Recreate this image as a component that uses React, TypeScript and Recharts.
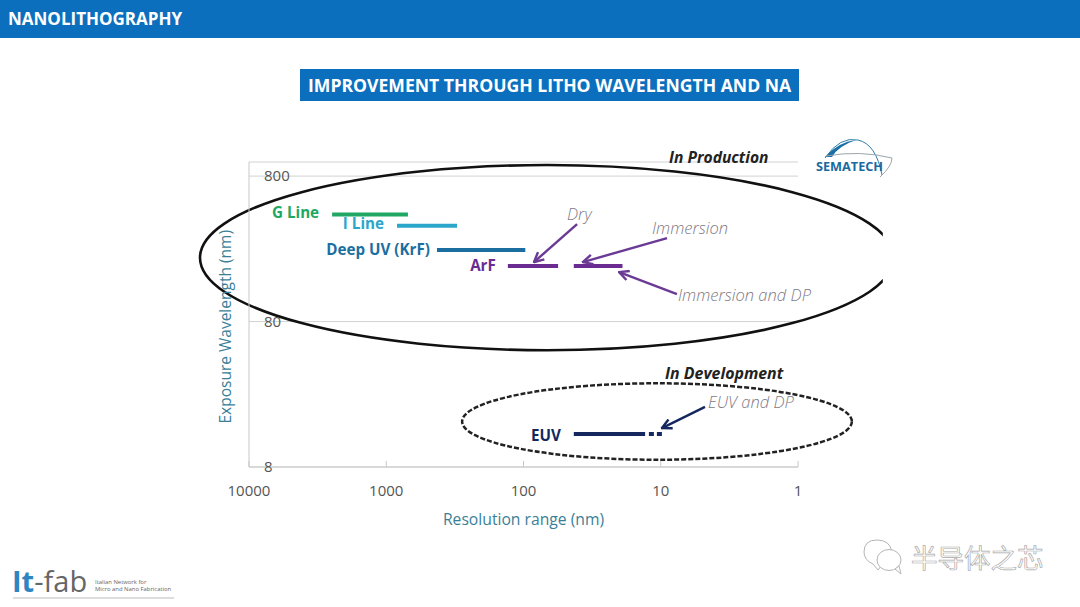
import { LineChart, Line, XAxis, YAxis, CartesianGrid, ReferenceArea, ReferenceLine } from 'recharts';

const FONT = '"Open Sans", sans-serif';

const xTicks = [10000, 1000, 100, 10, 1];
const yTicks = [800, 80, 8];

// resolution (nm) vs wavelength (nm)
const gLine = [{ x: 2480, y: 436 }, { x: 695, y: 436 }];
const iLine = [{ x: 835, y: 365 }, { x: 305, y: 365 }];
const krf = [{ x: 427, y: 248 }, { x: 97, y: 248 }];
const arfDry = [{ x: 130, y: 193 }, { x: 56, y: 193 }];
const arfImmersion = [{ x: 43, y: 193 }, { x: 19, y: 193 }];
const euv = [{ x: 43, y: 13.5 }, { x: 13, y: 13.5 }];
const euvDp = [{ x: 12.2, y: 13.5 }, { x: 9.8, y: 13.5 }];

// arrows: from / to in data values
const purpleArrows = [
  [{ x: 40.7, y: 374 }, { x: 83.9, y: 205 }],
  [{ x: 9, y: 300 }, { x: 36.9, y: 205 }],
  [{ x: 7.62, y: 123.6 }, { x: 20.1, y: 175 }],
];
const navyArrows = [[{ x: 4.76, y: 20.7 }, { x: 9.8, y: 14.8 }]];

function SeriesLabel({ x, y, index, text, color, gap, dy }: any) {
  if (index !== 0) return null;
  return (
    <text x={x - gap} y={y + dy} textAnchor="end" fill={color} fontFamily={FONT} fontSize={15.2} fontWeight={700}>
      {text}
    </text>
  );
}

function XTick({ x, y, payload }: any) {
  return (
    <g>
      <line x1={x} x2={x} y1={467} y2={461} stroke="#c8c8c8" />
      <text x={x} y={y + 27} textAnchor="middle" fill="#555" fontFamily={FONT} fontSize={15}>{payload.value}</text>
    </g>
  );
}

function YTick({ y, payload }: any) {
  return <text x={264} y={y + 5} fill="#555" fontFamily={FONT} fontSize={15}>{payload.value}</text>;
}

function BigEllipse({ x, y, width, height }: any) {
  return (
    <g>
      <clipPath id="bigClip"><rect x={x - 5} y={y - 5} width={width * 0.984 + 5} height={height + 10} /></clipPath>
      <ellipse clipPath="url(#bigClip)" cx={x + width / 2} cy={y + height / 2} rx={width / 2} ry={height / 2} fill="none" stroke="#111" strokeWidth={2.6} />
    </g>
  );
}

function DashedEllipse({ x, y, width, height }: any) {
  return <ellipse cx={x + width / 2} cy={y + height / 2} rx={width / 2} ry={height / 2} fill="none" stroke="#222" strokeWidth={2.5} strokeDasharray="5 2" />;
}

function Note({ x, y, children }: any) {
  return <text x={x} y={y} fill="#807a86" fontFamily={FONT} fontStyle="italic" fontWeight={300} fontSize={16.5}>{children}</text>;
}

function Overlay() {
  return (
    <svg width={1080} height={607} style={{ position: 'absolute', left: 0, top: 0, pointerEvents: 'none' }}>
      <defs>
        <marker id="arrowPurple" viewBox="0 0 10 10" refX="9" refY="5" markerWidth="5" markerHeight="5" orient="auto" markerUnits="strokeWidth">
          <path d="M1 1 L9 5 L1 9" fill="none" stroke="#6a3a94" strokeWidth="2" />
        </marker>
        <marker id="arrowNavy" viewBox="0 0 10 10" refX="9" refY="5" markerWidth="5" markerHeight="5" orient="auto" markerUnits="strokeWidth">
          <path d="M1 1 L9 5 L1 9" fill="none" stroke="#14285f" strokeWidth="2" />
        </marker>
      </defs>

      <text x={669} y={163} fill="#222" fontFamily={FONT} fontStyle="italic" fontWeight={700} fontSize={15.6}>In Production</text>
      <text x={665} y={379} fill="#222" fontFamily={FONT} fontStyle="italic" fontWeight={700} fontSize={15.9}>In Development</text>
      <Note x={567} y={220}>Dry</Note>
      <Note x={652} y={234}>Immersion</Note>
      <Note x={678} y={301}>Immersion and DP</Note>
      <Note x={708} y={408}>EUV and DP</Note>

      {/* sematech logo */}
      <path d="M825 158 Q840 136 858 140 Q876 144 882 175" fill="none" stroke="#2c7da8" strokeWidth={1} />
      <path d="M825 157 Q838 142 856 140 Q838 146 832 157 Z" fill="#1a6fa8" />
      <path d="M826 156 Q860 150 892 158 Q892 166 880 177" fill="none" stroke="#9aa5ad" strokeWidth={1} />
      <text x={816} y={171} fill="#1a6a9f" fontFamily={FONT} fontWeight={700} fontSize={12.7}>SEMATECH</text>

      {/* it-fab logo */}
      <text x={12} y={592} fontFamily={FONT} fontSize={29}>
        <tspan fill="#2e86c1" fontWeight={700}>It</tspan>
        <tspan fill="#666">-fab</tspan>
      </text>
      <text x={95} y={584} fill="#666" fontFamily={FONT} fontSize={5.9}>Italian Network for</text>
      <text x={95} y={591} fill="#666" fontFamily={FONT} fontSize={5.9}>Micro and Nano Fabrication</text>
      <line x1={13} x2={174} y1={598} y2={598} stroke="#bbb" />

      {/* watermark */}
      <g fill="#fff" stroke="#b5b5b5" strokeWidth={1}>
        <path d="M864 552 Q864 540 877 540 Q890 540 892 552 L878 570 L873 564 Q864 560 864 552 Z" />
        <ellipse cx={889} cy={560} rx={12} ry={10.5} />
        <path d="M895 569 L901 574 L899 566 Z" />
      </g>
      <text x={911} y={568} fill="#fff" stroke="#aaa" strokeWidth={0.7} fontFamily='"Noto Sans CJK SC"' fontSize={26.5}>半导体之芯</text>
    </svg>
  );
}

export default function App() {
  const lines = [
    { key: 'g', data: gLine, color: '#20a862', text: 'G Line', gap: 13, dy: 4 },
    { key: 'i', data: iLine, color: '#2ba6cb', text: 'I Line', gap: 13, dy: 3 },
    { key: 'krf', data: krf, color: '#1b6fa0', text: 'Deep UV (KrF)', gap: 7, dy: 5 },
    { key: 'arf', data: arfDry, color: '#6a2c91', text: 'ArF', gap: 12, dy: 5 },
    { key: 'arfi', data: arfImmersion, color: '#6a2c91' },
    { key: 'euv', data: euv, color: '#14285f', text: 'EUV', gap: 13, dy: 7 },
  ];

  return (
    <div style={{ position: 'absolute', left: 0, top: 0, width: 1080, height: 607, background: '#fff', overflow: 'hidden' }}>
      <div style={{ position: 'absolute', left: 0, top: 0, width: 1080, height: 38, background: '#0b6fbe', color: '#fff', font: `700 17px ${FONT}`, lineHeight: '37px', paddingLeft: 8, boxSizing: 'border-box' }}>
        NANOLITHOGRAPHY
      </div>
      <div style={{ position: 'absolute', left: 300, top: 69, width: 499, height: 32, background: '#0b6fbe', color: '#fff', font: `700 17.6px ${FONT}`, lineHeight: '32px', paddingLeft: 8, boxSizing: 'border-box', whiteSpace: 'nowrap' }}>
        IMPROVEMENT THROUGH LITHO WAVELENGTH AND NA
      </div>

      <div style={{ position: 'absolute', left: 0, top: 0 }}>
        <LineChart width={1080} height={607} margin={{ top: 162, right: 282, bottom: 80, left: 189 }}>
          <CartesianGrid horizontal vertical={false} stroke="#d2d2d2" />
          <XAxis
            type="number"
            dataKey="x"
            scale="log"
            domain={[1, 10000]}
            reversed
            allowDataOverflow
            ticks={xTicks}
            interval={0}
            height={60}
            tickLine={false}
            tickSize={0}
            axisLine={{ stroke: '#c8c8c8' }}
            tick={<XTick />}
            label={{ value: 'Resolution range (nm)', position: 'insideBottom', offset: 0, dy: -2, fill: '#3a7f97', fontFamily: FONT, fontSize: 15.7 }}
          />
          <YAxis
            type="number"
            dataKey="y"
            scale="log"
            domain={[8, 1000]}
            allowDataOverflow
            ticks={yTicks}
            interval={0}
            width={60}
            tickLine={false}
            axisLine={{ stroke: '#c8c8c8' }}
            tick={<YTick />}
            label={{ value: 'Exposure Wavelength (nm)', angle: -90, position: 'insideLeft', dx: 31, dy: 109, fill: '#3a7f97', fontFamily: FONT, fontSize: 15.5 }}
          />

          {lines.map((s) => (
            <Line
              key={s.key}
              data={s.data}
              dataKey="y"
              stroke={s.color}
              strokeWidth={4}
              dot={false}
              isAnimationActive={false}
              label={s.text ? (p: any) => <SeriesLabel {...p} text={s.text} color={s.color} gap={s.gap} dy={s.dy} /> : false}
            />
          ))}
          <Line data={euvDp} dataKey="y" stroke="#14285f" strokeWidth={4} strokeDasharray="5 3" dot={false} isAnimationActive={false} />

          {purpleArrows.map((seg, i) => (
            <ReferenceLine key={i} segment={seg} ifOverflow="visible" stroke="#6a3a94" strokeWidth={2.4} markerEnd="url(#arrowPurple)" />
          ))}
          {navyArrows.map((seg, i) => (
            <ReferenceLine key={i} segment={seg} ifOverflow="visible" stroke="#14285f" strokeWidth={2.4} markerEnd="url(#arrowNavy)" />
          ))}

          <ReferenceArea x1={22750} x2={0.2} y1={953} y2={50.8} ifOverflow="visible" shape={<BigEllipse />} />
          <ReferenceArea x1={280} x2={0.405} y1={30.1} y2={8.97} ifOverflow="visible" shape={<DashedEllipse />} />
        </LineChart>
      </div>
      <Overlay />
    </div>
  );
}
